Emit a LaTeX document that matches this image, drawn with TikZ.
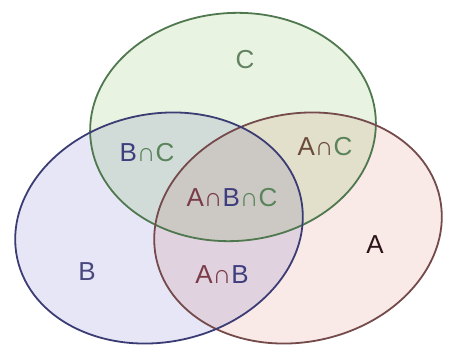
\documentclass[tikz,border=0pt]{standalone}
\usepackage{fontspec}
\setmainfont{Liberation Sans}
\usetikzlibrary{calc}

\definecolor{fillA}{HTML}{F9EAE7}
\definecolor{fillB}{HTML}{E6E6F7}
\definecolor{fillC}{HTML}{E8F4E1}
\definecolor{lineA}{HTML}{744A4A}
\definecolor{lineB}{HTML}{3C3C74}
\definecolor{lineC}{HTML}{4F784F}
\definecolor{textA}{HTML}{7A3A48}
\definecolor{textB}{HTML}{3E3E7E}
\definecolor{textC}{HTML}{5A845A}
\definecolor{textAC}{HTML}{6B4A3A}

\newcommand{\inter}{∩}

\begin{document}
\begin{tikzpicture}[x=1pt, y=1pt, font=\fontsize{26}{26}\selectfont, line join=round]
  \useasboundingbox[fill=white] (0,0) rectangle (449,362);

  \coordinate (cA) at (298,134);
  \coordinate (cB) at (159,134);
  \coordinate (cC) at (233,235);

  \begin{scope}[blend mode=multiply]
    \fill[fillC] (cC) ellipse [x radius=143, y radius=114, rotate=4];
    \fill[fillB] (cB) ellipse [x radius=145, y radius=114, rotate=12];
    \fill[fillA] (cA) ellipse [x radius=145, y radius=114, rotate=12];
  \end{scope}

  \draw[lineC, line width=1.8] (cC) ellipse [x radius=143, y radius=114, rotate=4];
  \draw[lineA, line width=1.8] (cA) ellipse [x radius=145, y radius=114, rotate=12];
  \draw[lineB, line width=1.8] (cB) ellipse [x radius=145, y radius=114, rotate=12];

  \node[text=textC!80!gray] (labC) at (245,302) {C};
  \node (labBC) at (147,209) {\textcolor{textB}{B}\textcolor{textC}{\inter C}};
  \node (labAC) at (325,215) {\textcolor{textAC}{A\inter}\textcolor{textC}{C}};
  \node (labABC) at (232,164) {\textcolor{textA}{A\inter}\textcolor{textB}{B}\textcolor{textC}{\inter C}};
  \node[text=textB!85!gray] (labB) at (87,90) {B};
  \node (labAB) at (222,87) {\textcolor{textA}{A\inter}\textcolor{textB}{B}};
  \node[text=black!65!textA] (labA) at (375,117) {A};
\end{tikzpicture}
\end{document}
